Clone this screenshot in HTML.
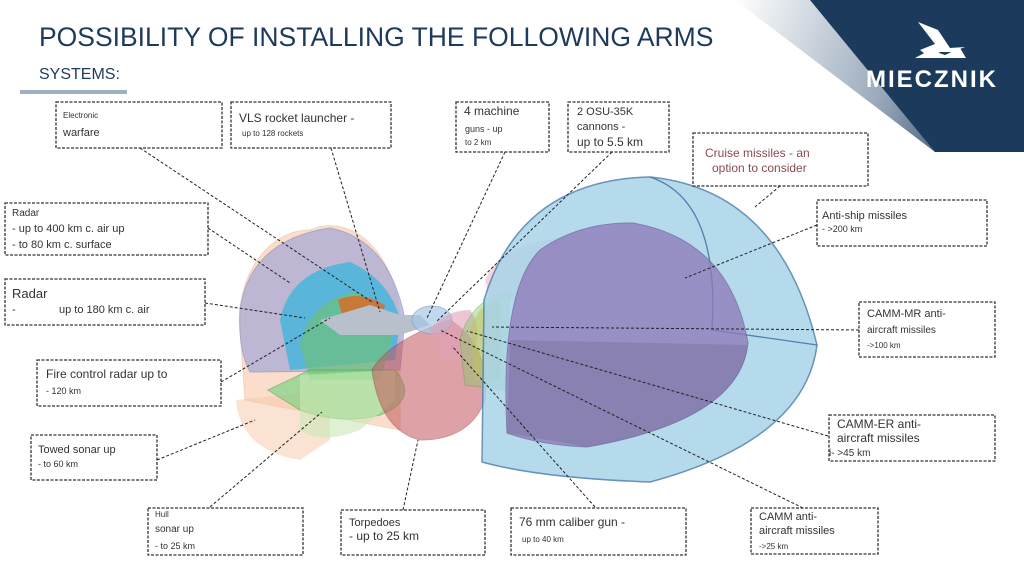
<!DOCTYPE html>
<html><head><meta charset="utf-8"><style>
body{margin:0;background:#fff;}
svg{display:block;font-family:"Liberation Sans",sans-serif;}
.b{fill:#fff;stroke:#333;stroke-width:1.3;stroke-dasharray:3 1.5;}
.l{stroke:#222;stroke-width:1;stroke-dasharray:3 2;fill:none;}
</style></head><body>
<svg width="1024" height="576" viewBox="0 0 1024 576">
<defs>
<linearGradient id="g1" x1="0" y1="0" x2="1" y2="0.2">
<stop offset="0" stop-color="#fff"/><stop offset="0.6" stop-color="#9aaabc"/><stop offset="1" stop-color="#2a4866"/></linearGradient>
</defs>
<polygon points="735,0 1024,0 1024,152 935,152" fill="url(#g1)"/>
<polygon points="810,0 1024,0 1024,152 935,152" fill="#1c3b5c"/>
<text x="39" y="46" font-size="26.5" fill="#1d3a5c">POSSIBILITY OF INSTALLING THE FOLLOWING ARMS</text>
<text x="39" y="79" font-size="16" fill="#1d3a5c">SYSTEMS:</text>
<rect x="20" y="90" width="107" height="4" fill="#9fb0c4"/>
<path d="M918 22 L938 30 L950 48 L965 47 L952 52 L940 52 L930 58 L920 50 L935 44 Z" fill="#fff"/>
<path d="M915 58 L930 50 L945 55 L960 48 L966 58 Z" fill="#fff"/>
<text x="866" y="87" font-size="24" font-weight="bold" fill="#fff" letter-spacing="2">MIECZNIK</text>

<!-- left shapes -->
<path d="M240 330 A70 90 0 0 1 310 230 A70 100 0 0 1 400 330 L400 430 L245 400 Z" fill="#f6b58c" opacity="0.45" stroke="#e0a080"/>
<path d="M236 400 Q240 450 300 460 L330 440 L330 390 Z" fill="#f8c8a8" opacity="0.5"/>
<path d="M240 310 Q250 240 330 228 Q390 240 405 320 L400 370 L250 372 Q238 350 240 310 Z" fill="#a4a8d8" opacity="0.7" stroke="#8e90c0"/>
<path d="M280 320 Q290 270 350 262 Q390 280 400 320 L395 360 L290 370 Z" fill="#39b4dc" opacity="0.75"/>
<path d="M300 345 Q310 300 355 292 Q385 305 392 340 L380 380 L310 380 Z" fill="#6cc07a" opacity="0.7"/>
<path d="M268 390 L310 370 L395 370 Q420 400 380 415 Q340 425 300 410 Z" fill="#6ed27a" opacity="0.6" stroke="#50a850"/>
<path d="M300 430 Q320 445 360 430 L395 400 L395 370 L300 375 Z" fill="#c8e8b4" opacity="0.6"/>
<path d="M338 300 Q360 290 385 305 L380 325 L345 325 Z" fill="#e06820" opacity="0.8"/>
<path d="M320 320 L370 305 L400 315 L420 315 L430 325 L400 335 L340 335 Z" fill="#b8c0cc"/>
<!-- middle -->
<path d="M372 370 Q390 340 450 320 Q490 345 485 400 Q470 440 420 440 Q380 430 372 370 Z" fill="#c4565c" opacity="0.55" stroke="#a04048"/>
<ellipse cx="432" cy="320" rx="20" ry="14" fill="#a8c8e8" opacity="0.7" stroke="#7fa0c8"/>
<path d="M430 330 Q445 310 470 310 Q485 330 470 360 L440 360 Z" fill="#e0a0b8" opacity="0.6"/>
<path d="M470 330 Q480 300 500 300 L500 380 L475 380 Z" fill="#f0c060" opacity="0.55"/>
<path d="M460 340 Q470 300 510 290 L505 390 L465 385 Z" fill="#88c868" opacity="0.45" stroke="#5aa848"/>
<path d="M485 280 Q500 245 560 238 L560 300 L490 300 Z" fill="#f4b4c8" opacity="0.6"/>
<!-- big dome -->
<path d="M482 462 L484 300 Q520 180 650 177 Q780 190 817 345 Q805 440 650 482 Q540 478 482 462 Z" fill="#a8d4e8" opacity="0.85" stroke="#5080b0" stroke-width="1.5"/>
<path d="M650 177 Q720 200 712 330 L817 345" fill="none" stroke="#5080b0" stroke-width="1.3"/>
<path d="M507 433 Q500 290 540 250 Q580 222 633 223 Q730 240 748 343 Q740 420 587 447 Q540 445 507 433 Z" fill="#8e78b8" opacity="0.75" stroke="#7060a0"/>
<path d="M510 340 L748 345 Q740 420 587 447 L507 433 Z" fill="#6c6890" opacity="0.35"/>

<!-- leader lines -->
<line class="l" x1="140" y1="148" x2="372" y2="302"/>
<line class="l" x1="331" y1="148" x2="380" y2="312"/>
<line class="l" x1="505" y1="152" x2="427" y2="318"/>
<line class="l" x1="612" y1="152" x2="436" y2="322"/>
<line class="l" x1="780" y1="186" x2="755" y2="207"/>
<line class="l" x1="208" y1="228" x2="290" y2="283"/>
<line class="l" x1="817" y1="225" x2="685" y2="278"/>
<line class="l" x1="205" y1="303" x2="305" y2="318"/>
<line class="l" x1="859" y1="330" x2="492" y2="327"/>
<line class="l" x1="221" y1="382" x2="330" y2="318"/>
<line class="l" x1="828" y1="436" x2="467" y2="331"/>
<line class="l" x1="157" y1="460" x2="255" y2="420"/>
<line class="l" x1="803" y1="508" x2="440" y2="330"/>
<line class="l" x1="210" y1="507" x2="322" y2="412"/>
<line class="l" x1="403" y1="510" x2="418" y2="440"/>
<line class="l" x1="595" y1="507" x2="452" y2="346"/>

<!-- boxes -->
<rect class="b" x="56" y="102" width="166" height="46"/>
<text x="63" y="118" font-size="8" fill="#333">Electronic</text>
<text x="63" y="136" font-size="11" fill="#333">warfare</text>
<rect class="b" x="231" y="102" width="160" height="46"/>
<text x="239" y="122" font-size="12" fill="#333">VLS rocket launcher -</text>
<text x="242" y="136" font-size="8" fill="#333">up to 128 rockets</text>
<rect class="b" x="456" y="102" width="93" height="50"/>
<text x="464" y="115" font-size="12" fill="#333">4 machine</text>
<text x="465" y="132" font-size="9" fill="#333">guns - up</text>
<text x="465" y="145" font-size="8" fill="#333">to 2 km</text>
<rect class="b" x="568" y="102" width="101" height="50"/>
<text x="577" y="115" font-size="11" fill="#333">2 OSU-35K</text>
<text x="577" y="130" font-size="11" fill="#333">cannons -</text>
<text x="577" y="146" font-size="12" fill="#333">up to 5.5 km</text>
<rect class="b" x="693" y="133" width="175" height="53"/>
<text x="705" y="157" font-size="12" fill="#8a4a50">Cruise missiles - an</text>
<text x="712" y="172" font-size="12" fill="#8a4a50">option to consider</text>
<rect class="b" x="5" y="203" width="203" height="52"/>
<text x="12" y="216" font-size="10" fill="#333">Radar</text>
<text x="12" y="232" font-size="11" fill="#333">- up to 400 km c. air up</text>
<text x="12" y="248" font-size="11" fill="#333">- to 80 km c. surface</text>
<rect class="b" x="817" y="200" width="170" height="46"/>
<text x="822" y="219" font-size="11" fill="#333">Anti-ship missiles</text>
<text x="822" y="232" font-size="9" fill="#333">-  &gt;200 km</text>
<rect class="b" x="5" y="279" width="200" height="46"/>
<text x="12" y="298" font-size="13" fill="#333">Radar</text>
<text x="12" y="313" font-size="11" fill="#333">-</text>
<text x="59" y="313" font-size="11" fill="#333">up to 180 km c. air</text>
<rect class="b" x="859" y="302" width="136" height="55"/>
<text x="867" y="317" font-size="11" fill="#333">CAMM-MR anti-</text>
<text x="867" y="333" font-size="10" fill="#333">aircraft missiles</text>
<text x="867" y="348" font-size="8" fill="#333">-&gt;100 km</text>
<rect class="b" x="37" y="360" width="184" height="46"/>
<text x="46" y="378" font-size="12" fill="#333">Fire control radar up to</text>
<text x="46" y="394" font-size="9" fill="#333">-  120 km</text>
<rect class="b" x="829" y="415" width="166" height="46"/>
<text x="837" y="428" font-size="12" fill="#333">CAMM-ER anti-</text>
<text x="837" y="442" font-size="12" fill="#333">aircraft missiles</text>
<text x="829" y="456" font-size="10" fill="#333">i- &gt;45 km</text>
<rect class="b" x="31" y="435" width="126" height="45"/>
<text x="38" y="453" font-size="11" fill="#333">Towed sonar up</text>
<text x="38" y="467" font-size="9" fill="#333">-  to 60 km</text>
<rect class="b" x="148" y="508" width="155" height="47"/>
<text x="155" y="517" font-size="8" fill="#333">Hull</text>
<text x="155" y="532" font-size="10" fill="#333">sonar up</text>
<text x="155" y="549" font-size="9" fill="#333">-  to 25 km</text>
<rect class="b" x="341" y="510" width="144" height="45"/>
<text x="349" y="526" font-size="11" fill="#333">Torpedoes</text>
<text x="349" y="540" font-size="12" fill="#333">- up to 25 km</text>
<rect class="b" x="511" y="508" width="175" height="47"/>
<text x="519" y="526" font-size="12" fill="#333">76 mm caliber gun -</text>
<text x="522" y="542" font-size="8" fill="#333">up to 40 km</text>
<rect class="b" x="751" y="508" width="127" height="46"/>
<text x="759" y="520" font-size="11" fill="#333">CAMM anti-</text>
<text x="759" y="534" font-size="11" fill="#333">aircraft missiles</text>
<text x="759" y="549" font-size="8" fill="#333">-&gt;25 km</text>
</svg>
</body></html>
